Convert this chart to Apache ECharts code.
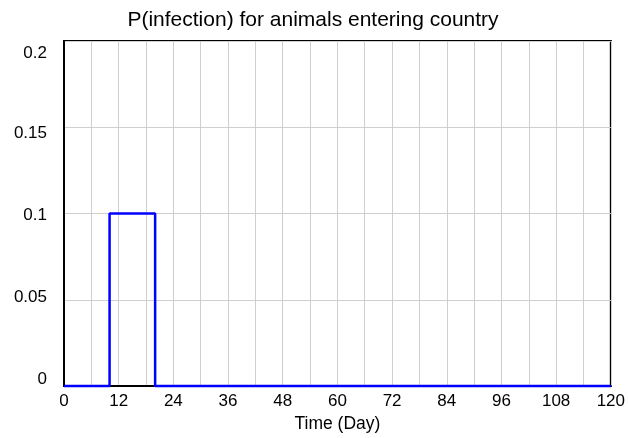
<!DOCTYPE html>
<html><head><meta charset="utf-8">
<script src="https://cdn.jsdelivr.net/npm/echarts@6/dist/echarts.min.js"></script>
<style>html,body{margin:0;padding:0;background:#fff}#c{width:628px;height:438px}</style>
</head><body><div id="c"></div>
<script>
var times = [0, 10, 10, 20, 20, 120];
var values = [0, 0, 0.1, 0.1, 0, 0];
var xTicks = [0, 12, 24, 36, 48, 60, 72, 84, 96, 108, 120];
var yTicks = ['0', '0.05', '0.1', '0.15', '0.2'];
var titleText = 'P(infection) for animals entering country';
var xName = 'Time (Day)';

var data = times.map(function (t, i) { return [t, values[i]]; });
var font = 'Liberation Sans, Arial, sans-serif';
var chart = echarts.init(document.getElementById('c'));
function r(p) { return { fontFamily: font, fontSize: 17, color: '#000', padding: p }; }
chart.setOption({
  animation: false,
  title: { text: titleText, left: 308, top: 5, textAlign: 'center',
    textStyle: { fontFamily: font, fontSize: 21, fontWeight: 'normal', color: '#000' } },
  grid: { left: 64, top: 41, right: 16, bottom: 48, show: true, borderColor: '#000', borderWidth: 2, backgroundColor: 'transparent' },
  xAxis: {
    type: 'value', min: 0, max: 120, interval: 12,
    name: xName, nameLocation: 'middle', nameGap: 23,
    nameTextStyle: { fontFamily: font, fontSize: 17.5, color: '#000', padding: [0, 0, 0, 0] },
    axisLine: { show: true, lineStyle: { color: '#000', width: 2 } },
    axisTick: { show: false },
    axisLabel: { fontFamily: font, fontSize: 17, color: '#000', margin: 7,
      formatter: function (v) { return xTicks.indexOf(v) >= 0 ? String(v) : ''; } },
    splitLine: { show: true, lineStyle: { color: '#cfcfcf', width: 1 } },
    minorTick: { show: false, splitNumber: 2 },
    minorSplitLine: { show: true, lineStyle: { color: '#cfcfcf', width: 1 } }
  },
  yAxis: {
    type: 'value', min: 0, max: 0.2, interval: 0.05,
    axisLine: { show: true, lineStyle: { color: '#000', width: 2 } },
    axisTick: { show: false },
    axisLabel: { fontFamily: font, fontSize: 17, color: '#000', margin: 17,
      formatter: function (v) {
        var i = Math.round(v / 0.05);
        return '{r' + i + '|' + yTicks[i] + '}';
      },
      rich: {
        r0: r([0, 0, 14, 0]),
        r1: r([0, 0, 6, 0]),
        r2: r([4, 0, 0, 0]),
        r3: r([13, 0, 0, 0]),
        r4: r([25, 0, 0, 0])
      }
    },
    splitLine: { show: true, lineStyle: { color: '#cfcfcf', width: 1 } }
  },
  series: [{
    type: 'line', data: data, showSymbol: false, symbol: 'none',
    lineStyle: { color: '#0000ff', width: 2.5 }, z: 5, clip: false
  }]
});
</script></body></html>
